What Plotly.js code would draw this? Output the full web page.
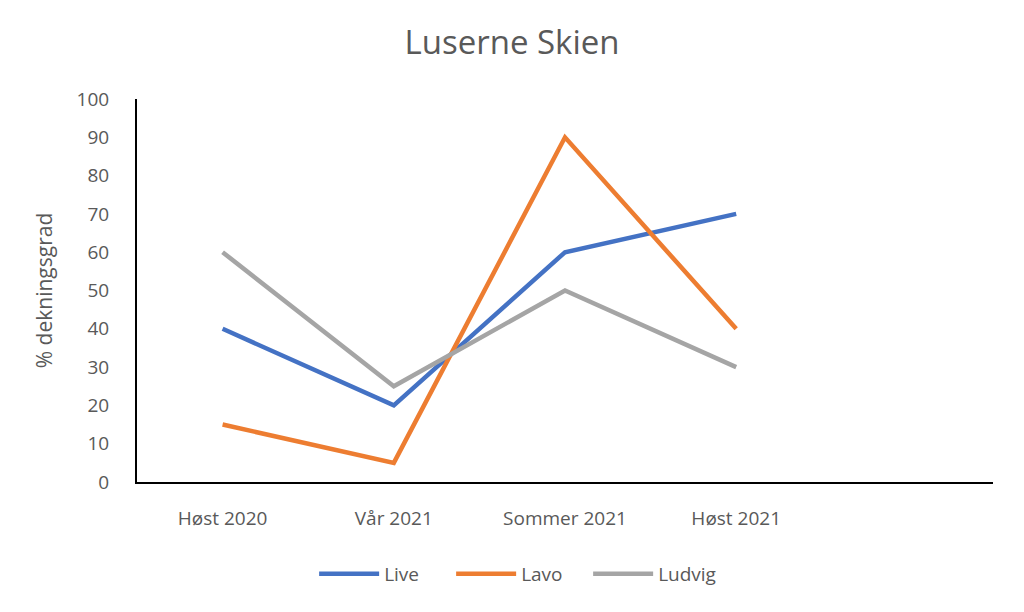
<!DOCTYPE html>
<html>
<head>
<meta charset="utf-8">
<script src="https://cdn.plot.ly/plotly-3.0.1.min.js"></script>
<style>
  html, body { margin: 0; padding: 0; background: #fff; }
  #chart { width: 1024px; height: 612px; }
</style>
</head>
<body>
<div id="chart"></div>
<script>
var seasons = ['Høst 2020', 'Vår 2021', 'Sommer 2021', 'Høst 2021']
var live = [40, 20, 60, 70]
var lavo = [15, 5, 90, 40]
var ludvig = [60, 25, 50, 30]

function line(name, y, color) {
    return {
        x: seasons,
        y: y,
        type: 'scatter',
        mode: 'lines',
        name: name,
        line: { color: color, width: 4.5 }
    }
}

var data = [
    line('Live', live, '#4472C4'),
    line('Lavo', lavo, '#ED7D31'),
    line('Ludvig', ludvig, '#A5A5A5')
]

var layout = {
    width: 1024,
    height: 612,
    paper_bgcolor: '#fff',
    plot_bgcolor: '#fff',
    font: { family: 'Open Sans, Lato, sans-serif', color: '#595959', size: 18 },
    margin: { l: 137, r: 31, t: 99, b: 130 },
    title: {
        text: 'Luserne Skien',
        font: { size: 33, color: '#595959' },
        x: 0.5, xanchor: 'center',
        y: 0.93, yanchor: 'middle'
    },
    xaxis: {
        type: 'category',
        categoryorder: 'array',
        categoryarray: seasons,
        range: [-0.5, 4.5],
        showgrid: false,
        zeroline: false,
        showline: true,
        linecolor: '#000',
        linewidth: 2,
        ticks: '',
        ticklabelstandoff: 18,
        tickfont: { size: 19, color: '#595959' }
    },
    yaxis: {
        range: [0, 100],
        dtick: 10,
        showgrid: false,
        zeroline: false,
        showline: true,
        linecolor: '#000',
        linewidth: 2,
        ticks: '',
        ticklabelstandoff: 22,
        tickfont: { size: 19, color: '#595959' },
        title: { text: '% dekningsgrad', font: { size: 21, color: '#595959' }, standoff: 18 }
    },
    legend: {
        orientation: 'h',
        x: 0.447, xanchor: 'center',
        y: -0.24, yanchor: 'middle',
        itemwidth: 60,
        entrywidth: 62,
        font: { size: 19, color: '#595959' }
    },
    showlegend: true
}

Plotly.newPlot('chart', data, layout, { displayModeBar: false })
</script>
</body>
</html>
